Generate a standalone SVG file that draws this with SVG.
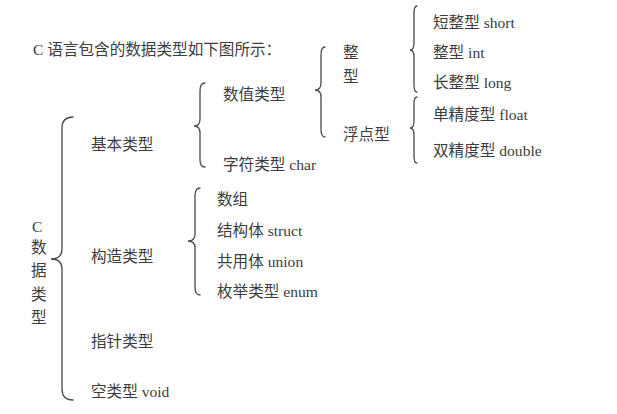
<svg xmlns="http://www.w3.org/2000/svg" width="617" height="414" viewBox="0 0 617 414">
<style>
text{font-family:"Liberation Serif","Noto Sans CJK SC",serif;font-size:15.6px;fill:#3c3c3c}
.b{fill:none;stroke:#4a4a4a;stroke-width:1.3;stroke-linecap:round}
</style>
<rect width="617" height="414" fill="#ffffff"/>
<g id="title"><text x="33" y="55">C 语言包含的数据类型如下图所示：</text></g>
<g id="connectors">
<path class="b" d="M73 117 Q62 117 62 128 L62 249 Q62 259 51 259 Q62 259 62 269 L62 389 Q62 400 73 400"/>
<path class="b" d="M205 83 Q200 83 200 91 L200 119 Q200 126 194 126 Q200 126 200 133 L200 160 Q200 167 205 167"/>
<path class="b" d="M200 188 Q195 188 195 196 L195 234 Q195 241 188 241 Q195 241 195 248 L195 287 Q195 295 200 295"/>
<path class="b" d="M325 47 Q321 47 321 55 L321 83 Q321 90 315 90 Q321 90 321 97 L321 129 Q321 137 325 137"/>
<path class="b" d="M417 6 Q414 6 414 13 L414 43 Q414 50 410 50 Q414 50 414 57 L414 85 Q414 92 417 92"/>
<path class="b" d="M417 97 Q414 97 414 104 L414 121 Q414 128 410 128 Q414 128 414 135 L414 156 Q414 163 417 163"/>
</g>
<g id="root">
<text x="32" y="232">C</text>
<text x="31" y="253">数</text>
<text x="31" y="276">据</text>
<text x="31" y="300">类</text>
<text x="31" y="323">型</text>
</g>
<g id="basic"><text x="91" y="150">基本类型</text></g>
<g id="construct"><text x="91" y="262">构造类型</text></g>
<g id="pointer"><text x="91" y="347">指针类型</text></g>
<g id="void"><text x="91" y="397">空类型 void</text></g>
<g id="numeric"><text x="223" y="100">数值类型</text></g>
<g id="char"><text x="223" y="170">字符类型 char</text></g>
<g id="array"><text x="217" y="205">数组</text></g>
<g id="struct"><text x="217" y="236">结构体 struct</text></g>
<g id="union"><text x="217" y="267">共用体 union</text></g>
<g id="enum"><text x="217" y="297">枚举类型 enum</text></g>
<g id="integer"><text x="343" y="58">整</text><text x="343" y="82">型</text></g>
<g id="floating"><text x="343" y="140">浮点型</text></g>
<g id="short"><text x="433" y="28">短整型 short</text></g>
<g id="int"><text x="433" y="58">整型 int</text></g>
<g id="long"><text x="433" y="88">长整型 long</text></g>
<g id="float"><text x="433" y="120">单精度型 float</text></g>
<g id="double"><text x="433" y="156">双精度型 double</text></g>
</svg>
